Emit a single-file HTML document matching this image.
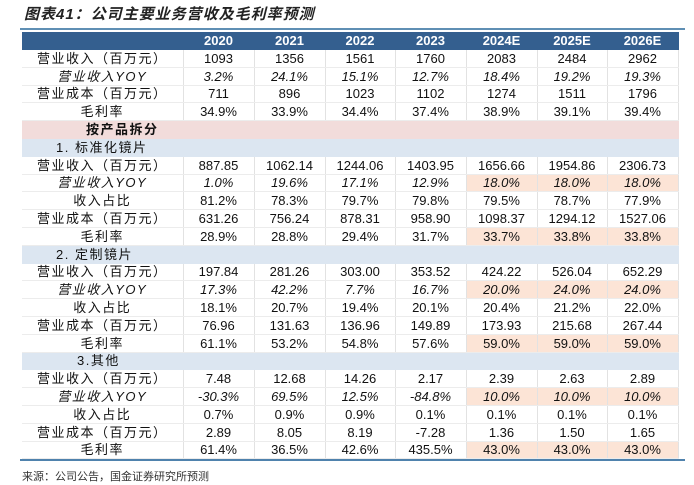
<!DOCTYPE html>
<html><head><meta charset="utf-8">
<style>
body{margin:0;width:694px;height:485px;background:#fff;position:relative;overflow:hidden;font-family:"Liberation Sans","Noto Sans CJK SC",sans-serif;}
#title{position:absolute;left:24px;top:3px;font-size:15px;font-weight:bold;font-style:italic;color:#222;letter-spacing:1px;}
#topline{position:absolute;left:20px;top:28px;width:665px;height:2px;background:#5f8fb4;}
#botline{position:absolute;left:20px;top:459px;width:665px;height:2px;background:#4f82ad;}
#src{position:absolute;left:22px;top:468px;font-size:11px;color:#333;}
table{position:absolute;left:22px;top:32px;border-collapse:collapse;table-layout:fixed;font-size:13px;color:#111;}
td{height:16.8px;padding:0;border-right:1px solid #e2e2e2;border-bottom:1px solid #ececec;text-align:center;white-space:nowrap;line-height:15px;overflow:hidden;}
td:first-child{letter-spacing:1.5px;}
tr.h td{background:#345f8f;color:#fff;font-weight:bold;height:17px;border-color:#345f8f;}
tr.sec td{background:#f2dcdb;border-color:#f2dcdb;font-weight:bold;}
tr.sub td{background:#dce6f1;border-color:#dce6f1;text-align:left;}
.i{font-style:italic;}
td.o{background:#fce4d6;}
</style></head><body>
<div id="title">图表41：公司主要业务营收及毛利率预测</div>
<div id="topline"></div>
<table>
<colgroup><col style="width:161px"><col style="width:71px"><col style="width:71px"><col style="width:70px"><col style="width:71px"><col style="width:71px"><col style="width:70px"><col style="width:71px"></colgroup>
<tr class="h"><td></td><td>2020</td><td>2021</td><td>2022</td><td>2023</td><td>2024E</td><td>2025E</td><td>2026E</td></tr>
<tr><td>营业收入（百万元）</td><td>1093</td><td>1356</td><td>1561</td><td>1760</td><td>2083</td><td>2484</td><td>2962</td></tr>
<tr class="i"><td>营业收入YOY</td><td>3.2%</td><td>24.1%</td><td>15.1%</td><td>12.7%</td><td>18.4%</td><td>19.2%</td><td>19.3%</td></tr>
<tr><td>营业成本（百万元）</td><td>711</td><td>896</td><td>1023</td><td>1102</td><td>1274</td><td>1511</td><td>1796</td></tr>
<tr><td>毛利率</td><td>34.9%</td><td>33.9%</td><td>34.4%</td><td>37.4%</td><td>38.9%</td><td>39.1%</td><td>39.4%</td></tr>
<tr class="sec"><td style="padding-left:40px">按产品拆分</td><td></td><td></td><td></td><td></td><td></td><td></td><td></td></tr>
<tr class="sub"><td style="padding-left:34px">1. 标准化镜片</td><td></td><td></td><td></td><td></td><td></td><td></td><td></td></tr>
<tr><td>营业收入（百万元）</td><td>887.85</td><td>1062.14</td><td>1244.06</td><td>1403.95</td><td>1656.66</td><td>1954.86</td><td>2306.73</td></tr>
<tr class="i"><td>营业收入YOY</td><td>1.0%</td><td>19.6%</td><td>17.1%</td><td>12.9%</td><td class="o">18.0%</td><td class="o">18.0%</td><td class="o">18.0%</td></tr>
<tr><td>收入占比</td><td>81.2%</td><td>78.3%</td><td>79.7%</td><td>79.8%</td><td>79.5%</td><td>78.7%</td><td>77.9%</td></tr>
<tr><td>营业成本（百万元）</td><td>631.26</td><td>756.24</td><td>878.31</td><td>958.90</td><td>1098.37</td><td>1294.12</td><td>1527.06</td></tr>
<tr><td>毛利率</td><td>28.9%</td><td>28.8%</td><td>29.4%</td><td>31.7%</td><td class="o">33.7%</td><td class="o">33.8%</td><td class="o">33.8%</td></tr>
<tr class="sub"><td style="padding-left:34px">2. 定制镜片</td><td></td><td></td><td></td><td></td><td></td><td></td><td></td></tr>
<tr><td>营业收入（百万元）</td><td>197.84</td><td>281.26</td><td>303.00</td><td>353.52</td><td>424.22</td><td>526.04</td><td>652.29</td></tr>
<tr class="i"><td>营业收入YOY</td><td>17.3%</td><td>42.2%</td><td>7.7%</td><td>16.7%</td><td class="o">20.0%</td><td class="o">24.0%</td><td class="o">24.0%</td></tr>
<tr><td>收入占比</td><td>18.1%</td><td>20.7%</td><td>19.4%</td><td>20.1%</td><td>20.4%</td><td>21.2%</td><td>22.0%</td></tr>
<tr><td>营业成本（百万元）</td><td>76.96</td><td>131.63</td><td>136.96</td><td>149.89</td><td>173.93</td><td>215.68</td><td>267.44</td></tr>
<tr><td>毛利率</td><td>61.1%</td><td>53.2%</td><td>54.8%</td><td>57.6%</td><td class="o">59.0%</td><td class="o">59.0%</td><td class="o">59.0%</td></tr>
<tr class="sub"><td style="padding-left:55px">3.其他</td><td></td><td></td><td></td><td></td><td></td><td></td><td></td></tr>
<tr><td>营业收入（百万元）</td><td>7.48</td><td>12.68</td><td>14.26</td><td>2.17</td><td>2.39</td><td>2.63</td><td>2.89</td></tr>
<tr class="i"><td>营业收入YOY</td><td>-30.3%</td><td>69.5%</td><td>12.5%</td><td>-84.8%</td><td class="o">10.0%</td><td class="o">10.0%</td><td class="o">10.0%</td></tr>
<tr><td>收入占比</td><td>0.7%</td><td>0.9%</td><td>0.9%</td><td>0.1%</td><td>0.1%</td><td>0.1%</td><td>0.1%</td></tr>
<tr><td>营业成本（百万元）</td><td>2.89</td><td>8.05</td><td>8.19</td><td>-7.28</td><td>1.36</td><td>1.50</td><td>1.65</td></tr>
<tr><td>毛利率</td><td>61.4%</td><td>36.5%</td><td>42.6%</td><td>435.5%</td><td class="o">43.0%</td><td class="o">43.0%</td><td class="o">43.0%</td></tr>
</table>
<div id="botline"></div>
<div id="src">来源：公司公告，国金证券研究所预测</div>
</body></html>
